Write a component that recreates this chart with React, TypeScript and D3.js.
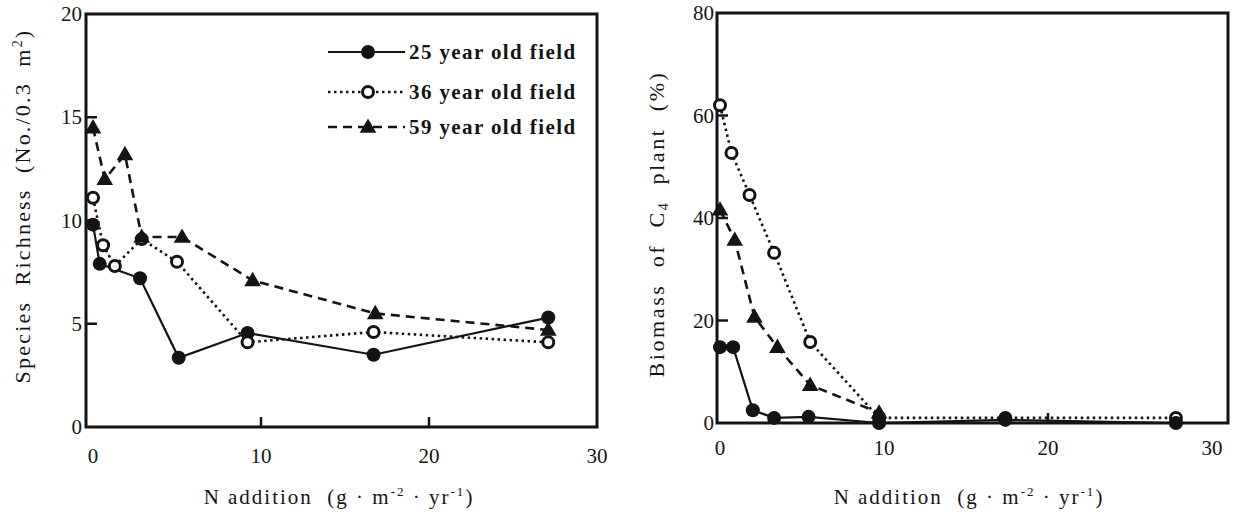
import React, { useEffect, useRef } from 'react';
import * as d3 from 'd3';

// N addition levels and values
const richX25 = [0, 0.4, 2.8, 5.1, 9.2, 16.7, 27.1];
const richY25 = [9.8, 7.9, 7.2, 3.35, 4.55, 3.5, 5.3];
const richX36 = [0, 0.6, 1.3, 2.9, 5.0, 9.2, 16.7, 27.1];
const richY36 = [11.1, 8.8, 7.8, 9.1, 8.0, 4.1, 4.6, 4.1];
const richX59 = [0, 0.7, 1.9, 2.9, 5.3, 9.5, 16.8, 27.1];
const richY59 = [14.5, 12.0, 13.2, 9.2, 9.2, 7.1, 5.5, 4.7];

const bioX25 = [0, 0.8, 2.0, 3.3, 5.4, 9.7, 17.4, 27.8];
const bioY25 = [14.8, 14.8, 2.5, 1.0, 1.2, 0, 0.6, 0];
const bioX36 = [0, 0.7, 1.8, 3.3, 5.5, 9.7, 17.4, 27.8];
const bioY36 = [62, 52.7, 44.5, 33.2, 15.8, 1.0, 1.0, 1.0];
const bioX59 = [0, 0.9, 2.1, 3.5, 5.5, 9.7];
const bioY59 = [41.6, 35.7, 20.7, 14.8, 7.4, 2.0];

const xTicks = [0, 10, 20, 30];
const richTicks = [0, 5, 10, 15, 20];
const bioTicks = [0, 20, 40, 60, 80];
const seriesNames = ['25 year old field', '36 year old field', '59 year old field'];

const FONT = '"Liberation Serif", "DejaVu Serif", serif';
const INK = '#141414';

type Style = { dash: string | null; marker: 'filled' | 'open' | 'tri' };
const styles: Style[] = [
  { dash: null, marker: 'filled' },
  { dash: '2.5,3.5', marker: 'open' },
  { dash: '9,6', marker: 'tri' },
];

const App: React.FC = () => {
  const svgRef = useRef<SVGSVGElement>(null);

  useEffect(() => {
    if (!svgRef.current) return;
    const svg = d3.select(svgRef.current);
    svg.selectAll('*').remove();

    const drawMarker = (g: any, kind: string, cx: number, cy: number) => {
      if (kind === 'filled') {
        g.append('circle').attr('cx', cx).attr('cy', cy).attr('r', 7).attr('fill', INK);
      } else if (kind === 'open') {
        g.append('circle').attr('cx', cx).attr('cy', cy).attr('r', 5.5)
          .attr('fill', '#fff').attr('stroke', INK).attr('stroke-width', 3);
      } else {
        const tri = d3.symbol().type(d3.symbolTriangle).size(120);
        g.append('path').attr('d', tri() as string)
          .attr('transform', `translate(${cx},${cy + 1})`).attr('fill', INK);
      }
    };

    const xTitle = (g: any, cx: number, y: number) => {
      const xl = g.append('text').attr('x', cx).attr('y', y)
        .attr('text-anchor', 'middle').attr('font-family', FONT).attr('font-size', 21)
        .attr('letter-spacing', 2).attr('fill', INK).attr('xml:space', 'preserve');
      xl.append('tspan').text('N addition  (g · m');
      xl.append('tspan').attr('dy', -8).attr('font-size', 13).text('-2');
      xl.append('tspan').attr('dy', 8).text(' · yr');
      xl.append('tspan').attr('dy', -8).attr('font-size', 13).text('-1');
      xl.append('tspan').attr('dy', 8).text(')');
    };

    const panel = (opts: {
      left: number; right: number; top: number; bottom: number;
      x0: number; x30: number; yMax: number; yTicks: number[];
      series: [number[], number[]][]; order: number[];
      yLabel: (t: any) => void; yLabelX: number; yLabelY: number;
      xLabelX: number; xLabelY: number; xTickY: number; yTickRight: number;
    }) => {
      const x = d3.scaleLinear().domain([0, 30]).range([opts.x0, opts.x30]);
      const y = d3.scaleLinear().domain([0, opts.yMax]).range([opts.bottom, opts.top]);
      const g = svg.append('g');

      // frame
      g.append('rect')
        .attr('x', opts.left).attr('y', opts.top)
        .attr('width', opts.right - opts.left).attr('height', opts.bottom - opts.top)
        .attr('fill', 'none').attr('stroke', INK).attr('stroke-width', 3);

      // inward ticks
      opts.yTicks.slice(1, -1).forEach(t => {
        g.append('line').attr('x1', opts.left).attr('x2', opts.left + 11)
          .attr('y1', y(t)).attr('y2', y(t)).attr('stroke', INK).attr('stroke-width', 2.5);
      });
      xTicks.slice(1, -1).forEach(t => {
        g.append('line').attr('x1', x(t)).attr('x2', x(t))
          .attr('y1', opts.bottom).attr('y2', opts.bottom - 10).attr('stroke', INK).attr('stroke-width', 2.5);
      });

      // tick labels
      opts.yTicks.forEach(t => {
        g.append('text').attr('x', opts.yTickRight).attr('y', y(t) + 7)
          .attr('text-anchor', 'end').attr('font-family', FONT).attr('font-size', 21)
          .attr('fill', INK).text(t);
      });
      xTicks.forEach(t => {
        g.append('text').attr('x', x(t)).attr('y', opts.xTickY)
          .attr('text-anchor', 'middle').attr('font-family', FONT).attr('font-size', 21)
          .attr('fill', INK).text(t);
      });

      // series lines then markers
      opts.order.forEach(i => {
        const [xs, ys] = opts.series[i];
        const pts = xs.map((v, k) => [x(v), y(ys[k])] as [number, number]);
        const line = d3.line();
        g.append('path').attr('d', line(pts) as string).attr('fill', 'none')
          .attr('stroke', INK).attr('stroke-width', i === 0 ? 2.2 : 2.6)
          .attr('stroke-dasharray', styles[i].dash ?? null);
      });
      opts.order.forEach(i => {
        const [xs, ys] = opts.series[i];
        xs.forEach((v, k) => drawMarker(g, styles[i].marker, x(v), y(ys[k])));
      });

      // axis titles
      const yl = g.append('text')
        .attr('transform', `translate(${opts.yLabelX},${opts.yLabelY}) rotate(-90)`)
        .attr('text-anchor', 'middle').attr('font-family', FONT).attr('font-size', 22)
        .attr('fill', INK).attr('xml:space', 'preserve');
      opts.yLabel(yl);
      xTitle(g, opts.xLabelX, opts.xLabelY);
      return { g, x, y };
    };

    // left panel: species richness
    const L = panel({
      left: 86, right: 597, top: 14, bottom: 427,
      x0: 93, x30: 597, yMax: 20, yTicks: richTicks,
      series: [[richX25, richY25], [richX36, richY36], [richX59, richY59]],
      order: [0, 1, 2],
      yLabel: (t: any) => {
        t.attr('letter-spacing', 2.2);
        t.append('tspan').text('Species  Richness  (No./0.3  m');
        t.append('tspan').attr('dy', -8).attr('font-size', 14).text('2');
        t.append('tspan').attr('dy', 8).text(')');
      },
      yLabelX: 30, yLabelY: 206,
      xLabelX: 339, xLabelY: 504, xTickY: 463, yTickRight: 82,
    });

    // legend
    const legY = [52, 92, 127];
    seriesNames.forEach((name, i) => {
      L.g.append('line').attr('x1', 328).attr('x2', 405)
        .attr('y1', legY[i]).attr('y2', legY[i]).attr('stroke', INK)
        .attr('stroke-width', i === 0 ? 2.2 : 2.6)
        .attr('stroke-dasharray', styles[i].dash ?? null);
      drawMarker(L.g, styles[i].marker, 368, legY[i]);
      L.g.append('text').attr('x', 409).attr('y', legY[i] + 7)
        .attr('font-family', FONT).attr('font-size', 21).attr('font-weight', 'bold')
        .attr('letter-spacing', 1.4).attr('fill', INK).text(name);
    });

    // right panel: biomass of C4 plants
    panel({
      left: 717, right: 1228, top: 13, bottom: 423,
      x0: 720, x30: 1212, yMax: 80, yTicks: bioTicks,
      series: [[bioX25, bioY25], [bioX36, bioY36], [bioX59, bioY59]],
      order: [1, 2, 0],
      yLabel: (t: any) => {
        t.attr('letter-spacing', 2.6);
        t.append('tspan').text('Biomass  of  C');
        t.append('tspan').attr('dy', 4).attr('font-size', 14).text('4');
        t.append('tspan').attr('dy', -4).text('  plant  (%)');
      },
      yLabelX: 664, yLabelY: 224,
      xLabelX: 969, xLabelY: 504, xTickY: 455, yTickRight: 714,
    });
  }, []);

  return (
    <svg ref={svgRef} width={1237} height={515}
      style={{ position: 'absolute', left: 0, top: 0, background: '#fff' }} />
  );
};

export default App;
